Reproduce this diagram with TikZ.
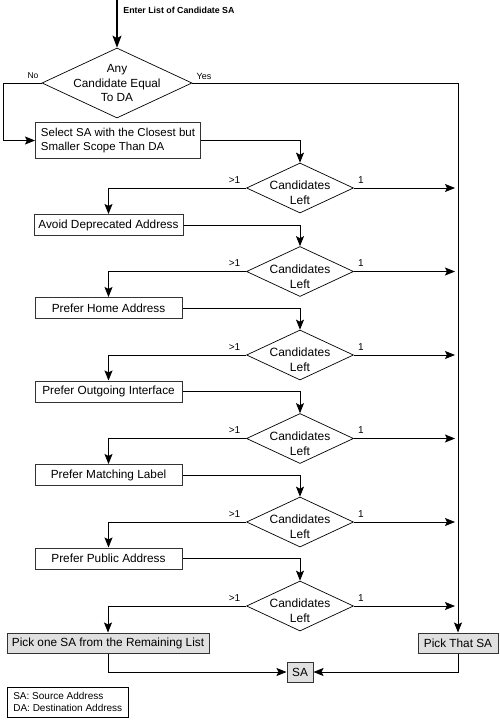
\documentclass[tikz,border=0pt]{standalone}
\usepackage{fontspec}
\setmainfont{Liberation Sans}
\usetikzlibrary{shapes.geometric,arrows.meta}
\begin{document}
\begin{tikzpicture}[x=1pt,y=-1pt,
  line width=0.8pt,
  arr/.style={-{Stealth[length=10pt,width=8pt,inset=2pt]}},
  box/.style={draw=black!80, line width=1pt, inner sep=0pt, minimum height=21pt, font=\fontsize{11.8}{14}\selectfont},
  gbox/.style={box, fill=black!12},
  dia/.style={draw, diamond, inner sep=0pt, minimum width=107pt, minimum height=50pt, line width=0.7pt},
  lab/.style={font=\fontsize{8.5}{10}\selectfont, inner sep=0pt},
  clab/.style={font=\fontsize{10}{12}\selectfont, inner sep=0pt},
  dtext/.style={align=center, inner sep=0pt, font=\fontsize{12}{15}\selectfont}
]
\useasboundingbox (0,0) rectangle (500,720);

% start
\coordinate (start) at (117,0);
\node[font=\bfseries\fontsize{8.8}{10}\selectfont, anchor=west, inner sep=0pt] (enter) at (123,10) {Enter List of Candidate SA};
\node[draw, diamond, inner sep=0pt, minimum width=150pt, minimum height=70pt, line width=0.7pt] (d0) at (117,83) {};
\node[align=center, inner sep=0pt, font=\fontsize{11.8}{14.5}\selectfont] (d0t) at (d0) {Any\\Candidate Equal\\To DA};
\draw[-{Stealth[length=12pt,width=9pt,inset=2.5pt]}, line width=1.5pt] (start) -- (d0.north);
\node[lab] (no) at (33,76) {No};
\node[lab, font=\fontsize{9}{10}\selectfont] (yes) at (204,76) {Yes};

\node[box, minimum height=36pt, minimum width=165pt, align=left, inner xsep=2pt, anchor=north west, font=\fontsize{11.5}{14}\selectfont] (b0) at (35,122) {Select SA with the Closest but\\Smaller Scope Than DA};

% diamonds
\foreach \i/\y in {1/188,2/271.5,3/355,4/438.5,5/522,6/606} {
  \node[dia] (d\i) at (300,\y) {};
  \node[dtext] (dt\i) at (300,\y+5) {Candidates\\Left};
  \node[clab] (gt\i) at (234.5,\y-8) {>1};
  \node[clab] (one\i) at (361,\y-8) {1};
  \coordinate (r\i) at (455,\y);
  \draw[arr] (d\i.east) -- (r\i);
}

% boxes
\node[box, minimum width=149pt] (b1) at (108.5,225) {Avoid Deprecated Address};
\node[box, minimum width=147pt] (b2) at (108.5,308) {Prefer Home Address};
\node[box, minimum width=147pt] (b3) at (108.5,391.5) {Prefer Outgoing Interface};
\node[box, minimum width=147pt] (b4) at (108.5,475) {Prefer Matching Label};
\node[box, minimum width=147pt] (b5) at (108.5,558.5) {Prefer Public Address};
\node[gbox, minimum width=202pt, minimum height=20pt] (p1) at (108,643) {Pick one SA from the Remaining List};
\node[gbox, minimum width=80pt, minimum height=20pt] (p2) at (458,643) {Pick That SA};
\node[gbox, minimum width=26pt, minimum height=20pt] (sa) at (300,672) {SA};

% legend
\node[draw, line width=0.6pt, align=left, anchor=north west, minimum width=121pt, minimum height=30pt, inner xsep=3pt, inner ysep=2pt, font=\fontsize{10}{12}\selectfont] (leg) at (7,687) {SA: Source Address\\DA: Destination Address};

% connectors
\draw[arr] (d0.west) -- ++(-38,0) |- (b0.west);
\draw[arr] (d0.east) -| (p2.north);
\draw[arr] (b0.east) -| (d1.north);
\draw[arr] (d1.west) -| (b1.north);
\draw[arr] (b1.east) -| (d2.north);
\draw[arr] (d2.west) -| (b2.north);
\draw[arr] (b2.east) -| (d3.north);
\draw[arr] (d3.west) -| (b3.north);
\draw[arr] (b3.east) -| (d4.north);
\draw[arr] (d4.west) -| (b4.north);
\draw[arr] (b4.east) -| (d5.north);
\draw[arr] (d5.west) -| (b5.north);
\draw[arr] (b5.east) -| (d6.north);
\draw[arr] (d6.west) -| (p1.north);
\draw[arr] (p1.south) |- (sa.west);
\draw[arr] (p2.south) |- (sa.east);
\end{tikzpicture}
\end{document}
